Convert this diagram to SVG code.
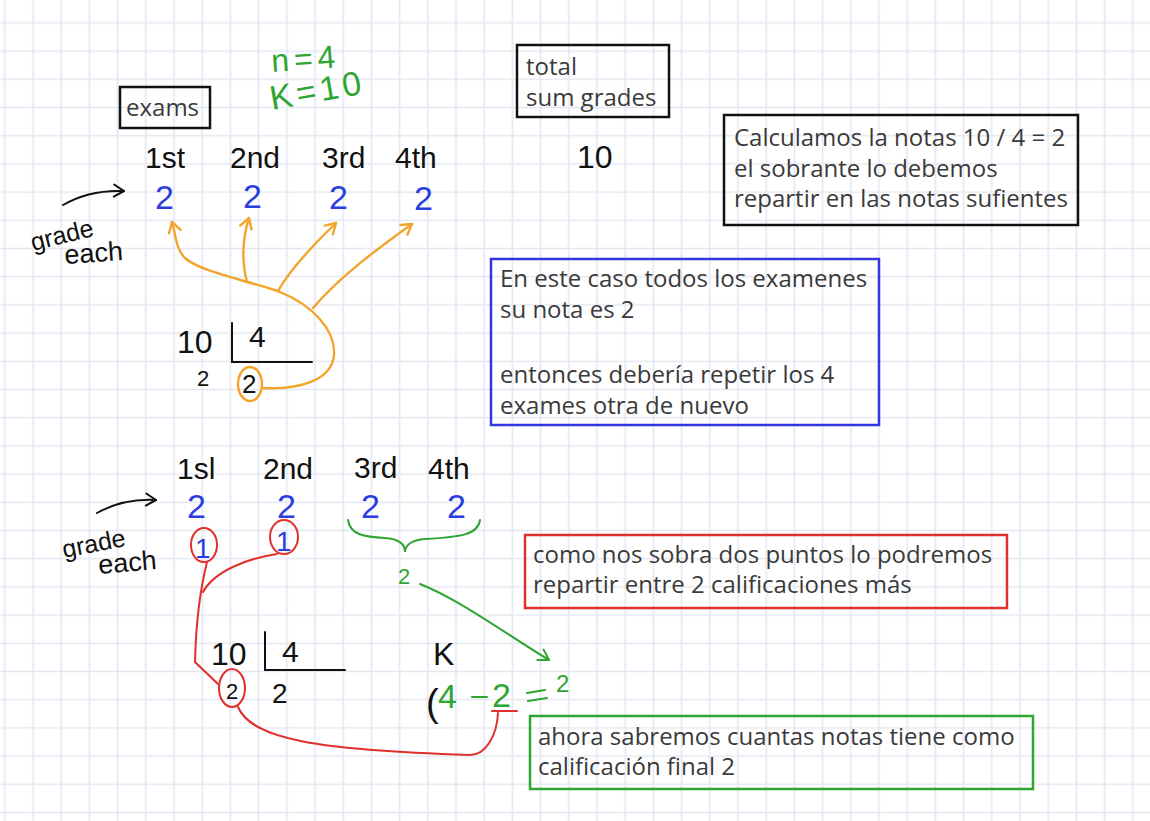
<svg xmlns="http://www.w3.org/2000/svg" width="1150" height="821" viewBox="0 0 1150 821">
<defs>
<pattern id="grid" patternUnits="userSpaceOnUse" x="-9.3" y="8.8" width="28.2" height="28.2">
<path d="M14.1 0 V28.2 M0 14.1 H28.2" stroke="#e4e7f2" stroke-width="1.6" fill="none"/>
</pattern>
<marker id="hOr" viewBox="-12 -8 14 16" markerWidth="14" markerHeight="16" refX="0" refY="0" orient="auto" markerUnits="userSpaceOnUse">
<path d="M-10,-6 L0,0 L-10,6" fill="none" stroke="#f2a52c" stroke-width="2.4" stroke-linecap="round" stroke-linejoin="round"/>
</marker>
<marker id="hBk" viewBox="-12 -8 14 16" markerWidth="14" markerHeight="16" refX="0" refY="0" orient="auto" markerUnits="userSpaceOnUse">
<path d="M-10,-6 L0,0 L-10,6" fill="none" stroke="#111" stroke-width="2" stroke-linecap="round" stroke-linejoin="round"/>
</marker>
<marker id="hGr" viewBox="-12 -8 14 16" markerWidth="14" markerHeight="16" refX="0" refY="0" orient="auto" markerUnits="userSpaceOnUse">
<path d="M-10,-6 L0,0 L-10,6" fill="none" stroke="#2fa532" stroke-width="2" stroke-linecap="round" stroke-linejoin="round"/>
</marker>
</defs>
<style>
.box{fill:none;stroke-width:2.5}
.t{font-family:"Open Sans","Liberation Sans",sans-serif;font-size:24px;fill:#3a3a3a}
.h{font-family:"Liberation Sans","DejaVu Sans",sans-serif;fill:#111}
.hb{font-family:"Liberation Sans","DejaVu Sans",sans-serif;fill:#2a3de0}
.hg{font-family:"Liberation Sans","DejaVu Sans",sans-serif;fill:#2fa532}
.or{fill:none;stroke:#f2a52c;stroke-width:2.4;stroke-linecap:round}
.rd{fill:none;stroke:#e0302c;stroke-width:2;stroke-linecap:round}
.gr{fill:none;stroke:#2fa532;stroke-width:2;stroke-linecap:round}
.bk{fill:none;stroke:#111;stroke-width:2;stroke-linecap:round}
</style>
<rect width="1150" height="821" fill="#fff"/>
<rect width="1150" height="821" fill="url(#grid)"/>

<g id="exams">
<rect class="box" x="120" y="87" width="90" height="41" stroke="#111"/>
<text class="t" x="126" y="116">exams</text>
</g>
<g id="total">
<rect class="box" x="517" y="45" width="152" height="72" stroke="#111"/>
<text class="t" x="526" y="75">total</text>
<text class="t" x="526" y="106">sum grades</text>
</g>
<g id="calculamos">
<rect class="box" x="724" y="115" width="354" height="110" stroke="#111"/>
<text class="t" x="734" y="146">Calculamos la notas 10 / 4 = 2</text>
<text class="t" x="734" y="177">el sobrante lo debemos</text>
<text class="t" x="734" y="207">repartir en las notas sufientes</text>
</g>
<g id="caso">
<rect class="box" x="491" y="259" width="388" height="166" stroke="#3535e0"/>
<text class="t" x="500" y="287">En este caso todos los examenes</text>
<text class="t" x="500" y="318">su nota es 2</text>
<text class="t" x="500" y="383">entonces debería repetir los 4</text>
<text class="t" x="500" y="414">exames otra de nuevo</text>
</g>
<g id="sobra">
<rect class="box" x="525" y="535" width="482" height="73" stroke="#e0302c"/>
<text class="t" x="533" y="563">como nos sobra dos puntos lo podremos</text>
<text class="t" x="533" y="593">repartir entre 2 calificaciones más</text>
</g>
<g id="ahora">
<rect class="box" x="530" y="716" width="503" height="73" stroke="#2fa532"/>
<text class="t" x="538" y="745">ahora sabremos cuantas notas tiene como</text>
<text class="t" x="538" y="775">calificación final 2</text>
</g>

<g id="params">
<text class="hg" x="272" y="72" font-size="32" letter-spacing="5" transform="rotate(-4 272 72)">n=4</text>
<text class="hg" x="272" y="110" font-size="34" letter-spacing="4" transform="rotate(-10 272 110)">K=10</text>
</g>
<g id="sum10"><text class="h" x="577" y="168" font-size="32">10</text></g>

<g id="top-row">
<text class="h" x="145" y="168" font-size="30">1st</text>
<text class="h" x="230" y="168" font-size="30">2nd</text>
<text class="h" x="322" y="168" font-size="30">3rd</text>
<text class="h" x="395" y="168" font-size="30">4th</text>
<text class="hb" x="155" y="209" font-size="34">2</text>
<text class="hb" x="243" y="208" font-size="34">2</text>
<text class="hb" x="329" y="209" font-size="34">2</text>
<text class="hb" x="414" y="210" font-size="34">2</text>
<text class="h" x="33" y="251" font-size="25" transform="rotate(-14 33 251)">grade</text>
<text class="h" x="65" y="264" font-size="27" transform="rotate(-4 65 264)">each</text>
</g>
<g id="top-division">
<text class="h" x="177" y="353" font-size="32">10</text>
<text class="h" x="249" y="347" font-size="30">4</text>
<text class="h" x="197" y="386" font-size="22">2</text>
<text class="h" x="242" y="393" font-size="26">2</text>
<path class="bk" d="M232,323 V362 H312"/>
</g>

<g id="bottom-row">
<text class="h" x="177" y="479" font-size="30">1sl</text>
<text class="h" x="263" y="479" font-size="30">2nd</text>
<text class="h" x="354" y="478" font-size="30">3rd</text>
<text class="h" x="428" y="479" font-size="30">4th</text>
<text class="hb" x="187" y="518" font-size="34">2</text>
<text class="hb" x="277" y="518" font-size="34">2</text>
<text class="hb" x="361" y="518" font-size="34">2</text>
<text class="hb" x="447" y="518" font-size="34">2</text>
<text class="hb" x="195" y="558" font-size="28">1</text>
<text class="hb" x="276" y="551" font-size="28">1</text>
<text class="h" x="64" y="558" font-size="25" transform="rotate(-11 64 558)">grade</text>
<text class="h" x="99" y="574" font-size="27" transform="rotate(-5 99 574)">each</text>
<text class="hg" x="398" y="584" font-size="22">2</text>
</g>
<g id="bottom-division">
<text class="h" x="211" y="665" font-size="32">10</text>
<text class="h" x="282" y="662" font-size="30">4</text>
<text class="h" x="226" y="699" font-size="22">2</text>
<text class="h" x="272" y="703" font-size="28">2</text>
<path class="bk" d="M265,632 V670 H345"/>
</g>
<g id="equation">
<text class="h" x="433" y="665" font-size="32">K</text>
<text class="h" x="426" y="716" font-size="38">(</text>
<text class="hg" x="438" y="708" font-size="34">4</text>
<path class="gr" d="M472,697 H487"/>
<text class="hg" x="492" y="707" font-size="34">2</text>
<path class="gr" d="M527,693 L545,690 M528,701 L547,698"/>
<text class="hg" x="556" y="692" font-size="24">2</text>
</g>

<g id="connectors">
<path class="bk" d="M63,205 C80,195 100,190 124,191" marker-end="url(#hBk)"/>
<path class="bk" d="M97,513 C115,503 135,499 156,500" marker-end="url(#hBk)"/>
<ellipse class="or" cx="250" cy="384" rx="12" ry="17"/>
<path class="or" d="M262,388 C300,390 332,380 334,355 C336,330 312,305 280,292 C250,281 200,272 185,258 C176,249 176,236 172,222" marker-end="url(#hOr)"/>
<path class="or" d="M247,282 C241,260 243,236 249,218" marker-end="url(#hOr)"/>
<path class="or" d="M278,291 C290,270 312,246 336,223" marker-end="url(#hOr)"/>
<path class="or" d="M313,308 C340,276 380,247 412,224" marker-end="url(#hOr)"/>
<ellipse class="rd" cx="204" cy="545" rx="13" ry="17"/>
<ellipse class="rd" cx="284" cy="537" rx="14" ry="17"/>
<ellipse class="rd" cx="232" cy="688" rx="13" ry="19"/>
<path class="rd" d="M207,562 C200,590 196,620 195,662 L218,684"/>
<path class="rd" d="M277,554 C250,558 215,570 203,592"/>
<path class="rd" d="M238,707 C252,740 320,750 470,755 C486,755 497,735 498,713"/>
<path class="rd" d="M492,711 L517,711"/>
<path class="gr" d="M348,520 C350,535 365,537 385,538 C400,539 405,545 405,552 C405,545 412,540 425,539 C460,537 478,535 480,520"/>
<path class="gr" d="M420,584 C460,600 500,630 549,660" marker-end="url(#hGr)"/>
</g>
</svg>
